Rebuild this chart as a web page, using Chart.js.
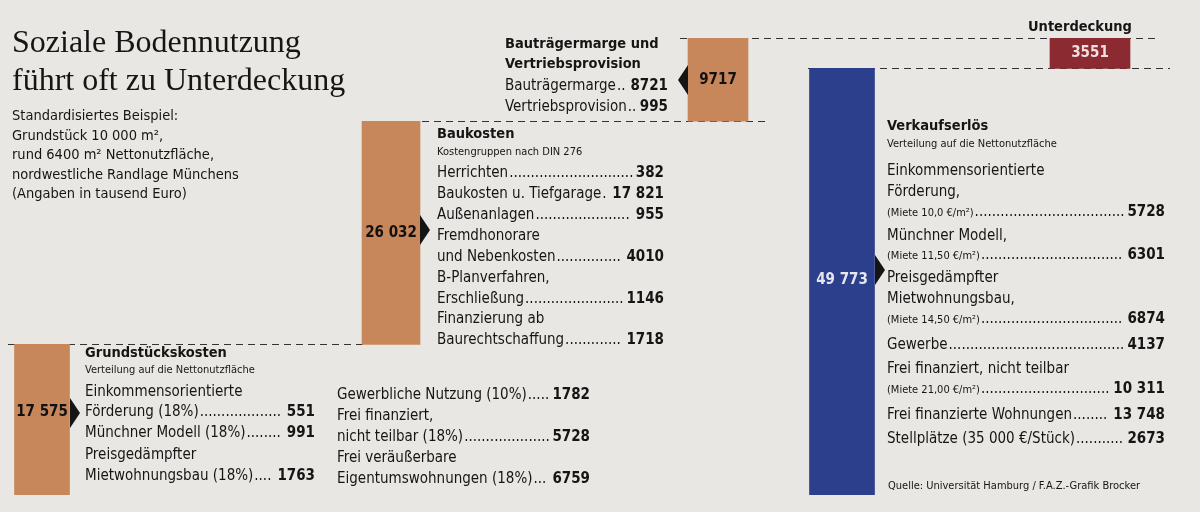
<!DOCTYPE html>
<html>
<head>
<meta charset="utf-8">
<script src="https://cdn.jsdelivr.net/npm/chart.js@4"></script>
<style>
  body { margin: 0; background: #e8e7e3; }
  #wrap { width: 1200px; height: 512px; }
</style>
</head>
<body>
<div id="wrap"><canvas id="c" width="1200" height="512"></canvas></div>
<script>
// Werte in tausend Euro
var STEPS = ['Grundstückskosten', 'Baukosten', 'Bauträgermarge und Vertriebsprovision', 'Verkaufserlös', 'Unterdeckung'];
var STARTS = [0, 17575, 43607, 0, 49773];
var VALUES = [17575, 26032, 9717, 49773, 3551];
var COLORS = ['#c8875a', '#c8875a', '#c8875a', '#2c3f8c', '#8b2a30'];
var LABEL_COLORS = ['#111', '#111', '#111', '#e6e6ee', '#f0e0e0'];

// layout only (pixel centre / width of each bar)
var X_POS = [42, 391, 718, 842, 1090];
var WIDTHS = [55, 58, 60, 65, 80];

var NARROW = '"Liberation Sans Narrow", "DejaVu Sans Condensed", sans-serif';
var FS = 15;

var datasets = STEPS.map(function (name, i) {
    return {
        label: name,
        data: [{ x: X_POS[i], y: [STARTS[i], STARTS[i] + VALUES[i]] }],
        backgroundColor: COLORS[i],
        barThickness: WIDTHS[i],
        grouped: false
    };
});

function fmt(v) {
    return v >= 10000 ? String(v).replace(/(\d+)(\d{3})$/, '$1 $2') : String(v);
}

function row(ctx, label, value, x, xr, y, size) {
    ctx.textAlign = 'left';
    ctx.font = (size || FS) + 'px ' + NARROW;
    ctx.fillText(label, x, y);
    var lw = ctx.measureText(label).width;
    ctx.font = 'bold ' + FS + 'px ' + NARROW;
    var vw = ctx.measureText(value).width;
    ctx.font = FS + 'px ' + NARROW;
    var dots = '';
    while (ctx.measureText(dots + '.').width < xr - vw - x - lw - 3) dots += '.';
    ctx.fillText(dots, x + lw + 1, y);
    ctx.font = 'bold ' + FS + 'px ' + NARROW;
    ctx.textAlign = 'right';
    ctx.fillText(value, xr, y);
}

function txt(ctx, s, x, y, font) {
    ctx.textAlign = 'left';
    ctx.font = font || (FS + 'px ' + NARROW);
    ctx.fillText(s, x, y);
}

function arrow(ctx, x, y, dir) {
    ctx.beginPath();
    ctx.moveTo(x, y - 15);
    ctx.lineTo(x + dir * 10, y);
    ctx.lineTo(x, y + 15);
    ctx.closePath();
    ctx.fill();
}

var decor = {
    id: 'decor',
    beforeDatasetsDraw: function (chart) {
        var ctx = chart.ctx, ys = chart.scales.y;
        ctx.save();
        ctx.strokeStyle = '#333';
        ctx.lineWidth = 1;
        ctx.setLineDash([7, 5]);
        function dash(v, x1, x2) {
            var y = Math.round(ys.getPixelForValue(v)) + 0.5;
            ctx.beginPath(); ctx.moveTo(x1, y); ctx.lineTo(x2, y); ctx.stroke();
        }
        dash(STARTS[1], 8, 365);
        dash(STARTS[2], 362, 765);
        dash(STARTS[2] + VALUES[2], 680, 1160);
        dash(VALUES[3], 808, 1170);
        ctx.restore();
    },
    afterDatasetsDraw: function (chart) {
        var ctx = chart.ctx;
        ctx.save();
        ctx.fillStyle = '#151515';
        ctx.textBaseline = 'alphabetic';

        // Titel
        txt(ctx, 'Soziale Bodennutzung', 12, 52, '32px "Liberation Serif", serif');
        txt(ctx, 'führt oft zu Unterdeckung', 12, 90, '32px "Liberation Serif", serif');
        ['Standardisiertes Beispiel:', 'Grundstück 10 000 m²,', 'rund 6400 m² Nettonutzfläche,',
         'nordwestliche Randlage Münchens', '(Angaben in tausend Euro)'].forEach(function (s, i) {
            txt(ctx, s, 12, 120 + i * 19.5, '14.5px ' + NARROW);
        });

        // Werte in Balken
        chart.data.datasets.forEach(function (ds, i) {
            var el = chart.getDatasetMeta(i).data[0];
            ctx.fillStyle = LABEL_COLORS[i];
            ctx.font = 'bold 15px ' + NARROW;
            ctx.textAlign = 'center';
            ctx.textBaseline = 'middle';
            var y = (el.y + el.base) / 2;
            if (i === 0) y = 412;
            if (i === 3) y = 280;
            ctx.fillText(fmt(VALUES[i]), el.x, y);
        });
        ctx.textBaseline = 'alphabetic';
        ctx.fillStyle = '#151515';

        arrow(ctx, 70, 413, 1);
        arrow(ctx, 420, 230, 1);
        arrow(ctx, 688, 80, -1);
        arrow(ctx, 875, 270, 1);

        // Grundstückskosten
        txt(ctx, 'Grundstückskosten', 85, 357, 'bold 14.5px ' + NARROW);
        txt(ctx, 'Verteilung auf die Nettonutzfläche', 85, 373, '11px ' + NARROW);
        txt(ctx, 'Einkommensorientierte', 85, 396);
        row(ctx, 'Förderung (18%)', '551', 85, 315, 416);
        row(ctx, 'Münchner Modell (18%)', '991', 85, 315, 437);
        txt(ctx, 'Preisgedämpfter', 85, 459);
        row(ctx, 'Mietwohnungsbau (18%)', '1763', 85, 315, 480);
        row(ctx, 'Gewerbliche Nutzung (10%)', '1782', 337, 590, 399);
        txt(ctx, 'Frei finanziert,', 337, 420);
        row(ctx, 'nicht teilbar (18%)', '5728', 337, 590, 441);
        txt(ctx, 'Frei veräußerbare', 337, 462);
        row(ctx, 'Eigentumswohnungen (18%)', '6759', 337, 590, 483);

        // Baukosten
        txt(ctx, 'Baukosten', 437, 138, 'bold 14.5px ' + NARROW);
        txt(ctx, 'Kostengruppen nach DIN 276', 437, 155, '11px ' + NARROW);
        row(ctx, 'Herrichten', '382', 437, 664, 177);
        row(ctx, 'Baukosten u. Tiefgarage', '17 821', 437, 664, 198);
        row(ctx, 'Außenanlagen', '955', 437, 664, 219);
        txt(ctx, 'Fremdhonorare', 437, 240);
        row(ctx, 'und Nebenkosten', '4010', 437, 664, 261);
        txt(ctx, 'B-Planverfahren,', 437, 282);
        row(ctx, 'Erschließung', '1146', 437, 664, 303);
        txt(ctx, 'Finanzierung ab', 437, 323);
        row(ctx, 'Baurechtschaffung', '1718', 437, 664, 344);

        // Bauträgermarge
        txt(ctx, 'Bauträgermarge und', 505, 48, 'bold 14.5px ' + NARROW);
        txt(ctx, 'Vertriebsprovision', 505, 68, 'bold 14.5px ' + NARROW);
        row(ctx, 'Bauträgermarge', '8721', 505, 668, 90);
        row(ctx, 'Vertriebsprovision', '995', 505, 668, 111);

        // Unterdeckung
        txt(ctx, 'Unterdeckung', 1028, 31, 'bold 14.5px ' + NARROW);

        // Verkaufserlös
        txt(ctx, 'Verkaufserlös', 887, 130, 'bold 14.5px ' + NARROW);
        txt(ctx, 'Verteilung auf die Nettonutzfläche', 887, 147, '11px ' + NARROW);
        txt(ctx, 'Einkommensorientierte', 887, 175);
        txt(ctx, 'Förderung,', 887, 196);
        row(ctx, '(Miete 10,0 €/m²)', '5728', 887, 1165, 216, 11);
        txt(ctx, 'Münchner Modell,', 887, 240);
        row(ctx, '(Miete 11,50 €/m²)', '6301', 887, 1165, 259, 11);
        txt(ctx, 'Preisgedämpfter', 887, 282);
        txt(ctx, 'Mietwohnungsbau,', 887, 303);
        row(ctx, '(Miete 14,50 €/m²)', '6874', 887, 1165, 323, 11);
        row(ctx, 'Gewerbe', '4137', 887, 1165, 349);
        txt(ctx, 'Frei finanziert, nicht teilbar', 887, 373);
        row(ctx, '(Miete 21,00 €/m²)', '10 311', 887, 1165, 393, 11);
        row(ctx, 'Frei finanzierte Wohnungen', '13 748', 887, 1165, 419);
        row(ctx, 'Stellplätze (35 000 €/Stück)', '2673', 887, 1165, 443);
        txt(ctx, 'Quelle: Universität Hamburg / F.A.Z.-Grafik Brocker', 888, 489, '11px ' + NARROW);
        ctx.restore();
    }
};

new Chart(document.getElementById('c'), {
    type: 'bar',
    data: { datasets: datasets },
    options: {
        responsive: false,
        animation: false,
        layout: { padding: { top: 38, bottom: 17, left: 0, right: 0 } },
        plugins: { legend: { display: false }, tooltip: { enabled: false } },
        scales: {
            x: { type: 'linear', min: 0, max: 1200, offset: false, display: false },
            y: { min: 0, max: STARTS[4] + VALUES[4], display: false }
        }
    },
    plugins: [decor]
});
</script>
</body>
</html>
